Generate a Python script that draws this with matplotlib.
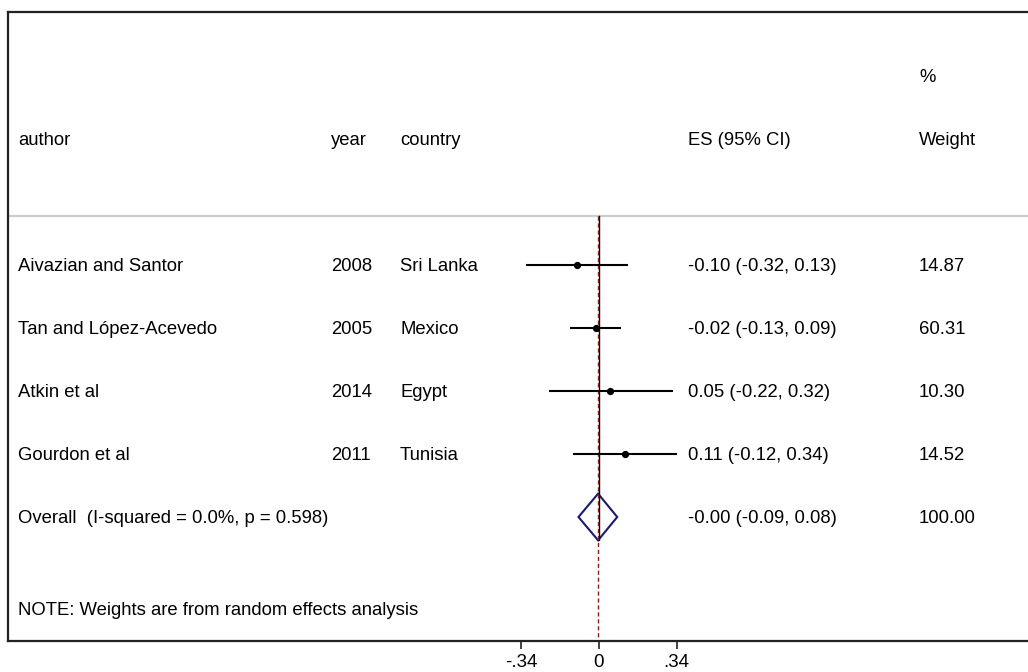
import numpy as np
import matplotlib.pyplot as plt
from matplotlib.transforms import blended_transform_factory

plt.rcParams['font.family'] = ['Liberation Sans', 'DejaVu Sans']

# study data
authors = ["Aivazian and Santor", "Tan and López-Acevedo", "Atkin et al", "Gourdon et al"]
years = ["2008", "2005", "2014", "2011"]
countries = ["Sri Lanka", "Mexico", "Egypt", "Tunisia"]
es = [-0.096, -0.014, 0.050, 0.114]
ci_lo = [-0.320, -0.127, -0.219, -0.114]
ci_hi = [0.129, 0.095, 0.323, 0.344]
es_text = ["-0.10 (-0.32, 0.13)", "-0.02 (-0.13, 0.09)", "0.05 (-0.22, 0.32)", "0.11 (-0.12, 0.34)"]
weights = ["14.87", "60.31", "10.30", "14.52"]

# pooled estimate
overall_label = "Overall  (I-squared = 0.0%, p = 0.598)"
overall_es = -0.004
overall_lo = -0.09
overall_hi = 0.08
overall_text = "-0.00 (-0.09, 0.08)"
overall_weight = "100.00"

headers = ["author", "year", "country", "ES (95% CI)", "Weight"]
note = "NOTE: Weights are from random effects analysis"
xticks = [-0.34, 0, 0.34]
xticklabels = ["-.34", "0", ".34"]

W, H = 1028, 672
fig = plt.figure(figsize=(W / 100, H / 100), dpi=100)
right_px = W + 6   # frame runs off the right edge
ax = fig.add_axes([8 / W, (H - 641) / H, (right_px - 8) / W, (641 - 12) / H])

pxu = 228.0      # pixels per effect unit
x0 = 599         # pixel position of zero
rowpx = 63.0     # pixels per row
r0 = 265         # pixel position of first row
ax.set_xlim((8 - x0) / pxu, (right_px - x0) / pxu)
ax.set_ylim((641 - r0) / rowpx, (12 - r0) / rowpx)

for s in ['top', 'left', 'bottom']:
    ax.spines[s].set_linewidth(1.6)
    ax.spines[s].set_color('#222222')
ax.spines['right'].set_visible(False)
ax.set_yticks([])
ax.set_xticks(xticks)
ax.set_xticklabels(xticklabels)
ax.tick_params(axis='x', length=6, width=1.2, pad=3.5, labelsize=13.5, color='#222222')

rows = np.arange(len(authors))
overall_row = len(authors)
header_line = (216 - r0) / rowpx

# header separator
ax.axhline(header_line, color='#cccccc', lw=1.6)

# null line and overall line
ax.plot([0, 0], [header_line, overall_row + 0.37], color='black', lw=1.0)
ax.plot([overall_es, overall_es], [header_line, ax.get_ylim()[0]], color='#8b1a1a',
        lw=1.0, ls=(0, (3, 2)))

# study CIs and points
for r, e, l, h in zip(rows, es, ci_lo, ci_hi):
    ax.plot([l, h], [r, r], color='black', lw=1.5, solid_capstyle='butt')
    ax.plot(e, r, 'o', color='black', markersize=4.2)

# diamond
dh = 0.37
ax.fill([overall_lo, overall_es, overall_hi, overall_es, overall_lo],
        [overall_row, overall_row - dh, overall_row, overall_row + dh, overall_row],
        facecolor='none', edgecolor='#1a1a70', lw=1.5)

# text columns
tr = blended_transform_factory(fig.transFigure, ax.transData)
col_x = [18, 331, 400, 688, 919]
fs = 13.3
off = 0.09
for x, t in zip(col_x, headers):
    fig.text(x / W, -2.0 + off, t, transform=tr, fontsize=fs, va='baseline')
fig.text(919 / W, -3.0 + off, "%", transform=tr, fontsize=fs, va='baseline')

for r in rows:
    fig.text(col_x[0] / W, r + off, authors[r], transform=tr, fontsize=fs, va='baseline')
    fig.text(col_x[1] / W, r + off, years[r], transform=tr, fontsize=fs, va='baseline')
    fig.text(col_x[2] / W, r + off, countries[r], transform=tr, fontsize=fs, va='baseline')
    fig.text(col_x[3] / W, r + off, es_text[r], transform=tr, fontsize=fs, va='baseline')
    fig.text(col_x[4] / W, r + off, weights[r], transform=tr, fontsize=fs, va='baseline')

fig.text(col_x[0] / W, overall_row + off, overall_label, transform=tr, fontsize=fs, va='baseline')
fig.text(col_x[3] / W, overall_row + off, overall_text, transform=tr, fontsize=fs, va='baseline')
fig.text(col_x[4] / W, overall_row + off, overall_weight, transform=tr, fontsize=fs, va='baseline')

fig.text(col_x[0] / W, (609 - r0) / rowpx + off, note, transform=tr, fontsize=fs, va='baseline')

fig.savefig('out.png', dpi=100)
